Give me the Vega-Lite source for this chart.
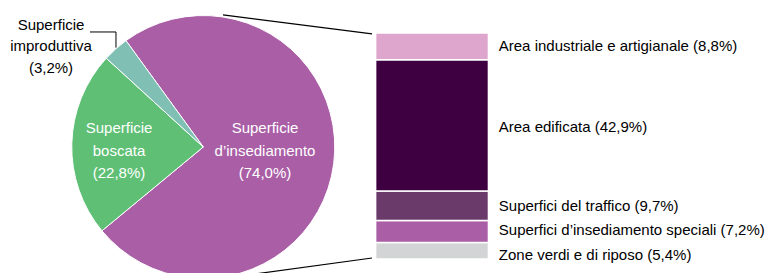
{
  "$schema": "https://vega.github.io/schema/vega-lite/v6.json",
  "width": 765,
  "height": 273,
  "autosize": {"type": "none"},
  "padding": 0,
  "config": {
    "view": {"stroke": null},
    "text": {"font": "Liberation Sans", "fontSize": 15, "lineHeight": 22.5}
  },
  "datasets": {
    "pie": [
      {"cat": "Superficie d’insediamento", "value": 74.0, "ord": 1},
      {"cat": "Superficie boscata", "value": 22.8, "ord": 2},
      {"cat": "Superficie improduttiva", "value": 3.2, "ord": 3}
    ],
    "bar": [
      {"cat": "Zone verdi e di riposo", "value": 5.4, "ord": 1, "label": "Zone verdi e di riposo (5,4%)"},
      {"cat": "Superfici d’insediamento speciali", "value": 7.2, "ord": 2, "label": "Superfici d’insediamento speciali (7,2%)"},
      {"cat": "Superfici del traffico", "value": 9.7, "ord": 3, "label": "Superfici del traffico (9,7%)"},
      {"cat": "Area edificata", "value": 42.9, "ord": 4, "label": "Area edificata (42,9%)"},
      {"cat": "Area industriale e artigianale", "value": 8.8, "ord": 5, "label": "Area industriale e artigianale (8,8%)"}
    ]
  },
  "layer": [
    {
      "data": {"name": "pie"},
      "mark": {"type": "arc", "outerRadius": 131.5, "stroke": "white", "strokeWidth": 1},
      "encoding": {
        "theta": {"field": "value", "type": "quantitative", "stack": true, "scale": {"range": [-0.6283, 5.6549]}},
        "order": {"field": "ord", "type": "quantitative"},
        "color": {
          "field": "cat", "type": "nominal", "legend": null,
          "scale": {
            "domain": ["Superficie d’insediamento", "Superficie boscata", "Superficie improduttiva", "Zone verdi e di riposo", "Superfici d’insediamento speciali", "Superfici del traffico", "Area edificata", "Area industriale e artigianale"],
            "range": ["#a95ea6", "#5ebf75", "#80bfb4", "#d3d4d6", "#a95ea6", "#6a3a6b", "#3e0040", "#dea6cd"]
          }
        },
        "x": {"datum": 26.57, "type": "quantitative", "axis": null, "scale": {"domain": [0, 100], "nice": false, "zero": false}},
        "y": {"datum": 36.67, "type": "quantitative", "axis": null, "scale": {"domain": [-4.584, 84.8], "nice": false, "zero": false}}
      }
    },
    {
      "data": {"name": "bar"},
      "transform": [
        {"stack": "value", "groupby": [], "sort": [{"field": "ord", "order": "ascending"}], "as": ["y0", "y1"]},
        {"calculate": "(datum.y0 + datum.y1) / 2", "as": "ymid"}
      ],
      "layer": [
        {
          "mark": {"type": "bar", "stroke": "white", "strokeWidth": 1.5},
          "encoding": {
            "x": {"datum": 49.1, "type": "quantitative", "axis": null, "scale": {"domain": [0, 100], "nice": false, "zero": false}},
            "x2": {"datum": 63.85},
            "y": {"field": "y0", "type": "quantitative", "axis": null, "scale": {"domain": [-4.584, 84.8], "nice": false, "zero": false}},
            "y2": {"field": "y1"},
            "color": {"field": "cat", "type": "nominal", "legend": null}
          }
        },
        {
          "mark": {"type": "text", "align": "left", "baseline": "middle", "color": "black",
                   "yOffset": {"expr": "datum.ord == 1 ? 4 : datum.ord == 2 ? -2 : datum.ord == 4 ? 2 : 0"}},
          "encoding": {
            "x": {"datum": 65.2, "type": "quantitative", "axis": null, "scale": {"domain": [0, 100], "nice": false, "zero": false}},
            "y": {"field": "ymid", "type": "quantitative", "axis": null, "scale": {"domain": [-4.584, 84.8], "nice": false, "zero": false}},
            "text": {"field": "label"}
          }
        }
      ]
    },
    {
      "data": {"values": [{}]},
      "mark": {"type": "text", "align": "center", "baseline": "middle", "color": "white", "text": ["Superficie", "boscata", "(22,8%)"]},
      "encoding": {
        "x": {"datum": 15.56, "type": "quantitative"},
        "y": {"datum": 42.89, "type": "quantitative"}
      }
    },
    {
      "data": {"values": [{}]},
      "mark": {"type": "text", "align": "center", "baseline": "middle", "color": "white", "text": ["Superficie", "d’insediamento", "(74,0%)"]},
      "encoding": {
        "x": {"datum": 34.64, "type": "quantitative"},
        "y": {"datum": 42.89, "type": "quantitative"}
      }
    },
    {
      "data": {"values": [{}]},
      "mark": {"type": "text", "align": "center", "baseline": "middle", "color": "black", "lineHeight": 21.5, "text": ["Superficie", "improduttiva", "(3,2%)"]},
      "encoding": {
        "x": {"datum": 6.67, "type": "quantitative"},
        "y": {"datum": 76.62, "type": "quantitative"}
      }
    },
    {
      "data": {"values": [{}]},
      "mark": {"type": "rule", "color": "black", "strokeWidth": 1},
      "encoding": {
        "x": {"datum": 11.76, "type": "quantitative"},
        "x2": {"datum": 15.16},
        "y": {"datum": 74.33, "type": "quantitative"}
      }
    },
    {
      "data": {"values": [{}]},
      "mark": {"type": "rule", "color": "black", "strokeWidth": 1},
      "encoding": {
        "x": {"datum": 15.16, "type": "quantitative"},
        "y": {"datum": 74.33, "type": "quantitative"},
        "y2": {"datum": 69.2}
      }
    },
    {
      "data": {"values": [{}]},
      "mark": {"type": "rule", "color": "black", "strokeWidth": 1.2},
      "encoding": {
        "x": {"datum": 29.15, "type": "quantitative"},
        "x2": {"datum": 48.63},
        "y": {"datum": 79.9, "type": "quantitative"},
        "y2": {"datum": 73.7}
      }
    },
    {
      "data": {"values": [{}]},
      "mark": {"type": "rule", "color": "black", "strokeWidth": 1.2},
      "encoding": {
        "x": {"datum": 48.63, "type": "quantitative"},
        "x2": {"datum": 30.07},
        "y": {"datum": 0.33, "type": "quantitative"},
        "y2": {"datum": -6.02}
      }
    }
  ]
}
